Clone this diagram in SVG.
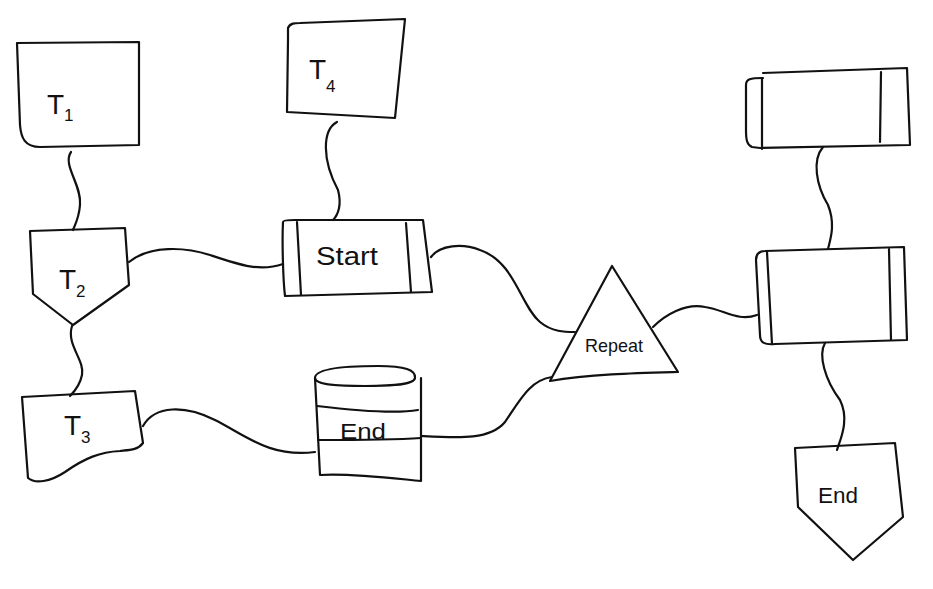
<svg xmlns="http://www.w3.org/2000/svg" width="933" height="589" viewBox="0 0 933 589">
<style>
.s{fill:none;stroke:#111;stroke-width:2.2;stroke-linecap:round;stroke-linejoin:round}
.t{font-family:"Liberation Sans","Noto Sans",sans-serif;fill:#111}
.sub{font-size:17px}
</style>
<rect width="933" height="589" fill="#fff"/>
<g id="connectors" class="s">
<path d="M71,152 C62,165 82,185 80,205 C79,218 75,225 73,230"/>
<path d="M337,122 C322,130 322,160 338,190 C342,205 338,215 333,220"/>
<path d="M129,262 C150,245 185,247 210,255 C240,265 260,272 283,264"/>
<path d="M72,326 C66,345 85,360 82,375 C80,385 74,392 70,396"/>
<path d="M143,426 C155,405 185,405 215,420 C245,435 270,458 315,452"/>
<path d="M431,257 C440,245 462,243 480,250 C515,262 520,305 540,322 C552,332 565,332 575,332"/>
<path d="M421,436 C460,438 490,440 505,422 C520,400 530,380 552,377"/>
<path d="M653,327 C665,315 685,303 705,307 C725,310 738,322 757,315"/>
<path d="M823,147 C812,160 816,185 828,205 C836,225 830,240 828,249"/>
<path d="M825,343 C818,355 825,380 840,400 C850,420 840,440 837,450"/>
</g>
<g id="n-t1">
<path class="s" d="M17,43 L139,42 L139,145 L40,147 C25,147 21,138 20,125 Z"/>
<text class="t" x="47" y="114" font-size="28">T<tspan class="sub" dy="7">1</tspan></text>
</g>
<g id="n-t4">
<path class="s" d="M288,40 L288,28 C290,23 295,23 300,23 L405,19 L395,118 L287,112 L288,40"/>
<text class="t" x="309" y="79" font-size="28">T<tspan class="sub" dy="13">4</tspan></text>
</g>
<g id="n-t2">
<path class="s" d="M30,231 L125,228 L129,285 L73,325 L33,294 Z"/>
<text class="t" x="59" y="289" font-size="28">T<tspan class="sub" dy="8">2</tspan></text>
</g>
<g id="n-start">
<path class="s" d="M283,222 C283,220 290,220 295,220 L423,220 L432,292 L285,296 C283,280 282,240 283,222 Z"/>
<path class="s" d="M297,222 L301,295 M406,223 L411,292"/>
<text class="t" x="347" y="265" font-size="25" text-anchor="middle" textLength="62" lengthAdjust="spacingAndGlyphs">Start</text>
</g>
<g id="n-t3">
<path class="s" d="M22,397 L135,391 L143,443 C138,450 130,450 120,451 C100,452 85,458 65,472 C50,482 35,484 28,478 Z"/>
<text class="t" x="64" y="435" font-size="28">T<tspan class="sub" dy="8">3</tspan></text>
</g>
<g id="n-end-db">
<path class="s" d="M315,378 C315,368 350,366 378,366 C405,366 416,370 415,378 C414,386 380,386 365,386 C340,386 315,385 315,378 Z"/>
<path class="s" d="M315,378 L320,475 C350,473 390,478 421,481 L421,378"/>
<path class="s" d="M317,406 C350,410 395,414 418,410 M318,440 C350,440 390,440 421,438"/>
<text class="t" x="363" y="439" font-size="22" text-anchor="middle" textLength="46" lengthAdjust="spacingAndGlyphs">End</text>
</g>
<g id="n-repeat">
<path class="s" d="M612,266 L678,372 C640,373 590,374 550,381 Z"/>
<text class="t" x="614" y="352" font-size="19" text-anchor="middle" textLength="58" lengthAdjust="spacingAndGlyphs">Repeat</text>
</g>
<g id="n-r1">
<path class="s" d="M763,73 L907,68 L910,145 L760,148 L752,147 C747,145 746,140 746,130 L746,85 C746,79 750,78 763,78"/>
<path class="s" d="M762,78 L762,149 M881,72 L880,142"/>
</g>
<g id="n-r2">
<path class="s" d="M765,251 L904,247 L907,340 L775,344 C765,345 760,343 760,335 L756,260 C756,253 760,251 765,251 Z"/>
<path class="s" d="M767,252 L772,344 M889,249 L891,340"/>
</g>
<g id="n-end-r">
<path class="s" d="M795,448 L895,443 L903,517 L853,560 L798,507 Z"/>
<text class="t" x="838" y="503" font-size="22" text-anchor="middle" textLength="40" lengthAdjust="spacingAndGlyphs">End</text>
</g>
</svg>
